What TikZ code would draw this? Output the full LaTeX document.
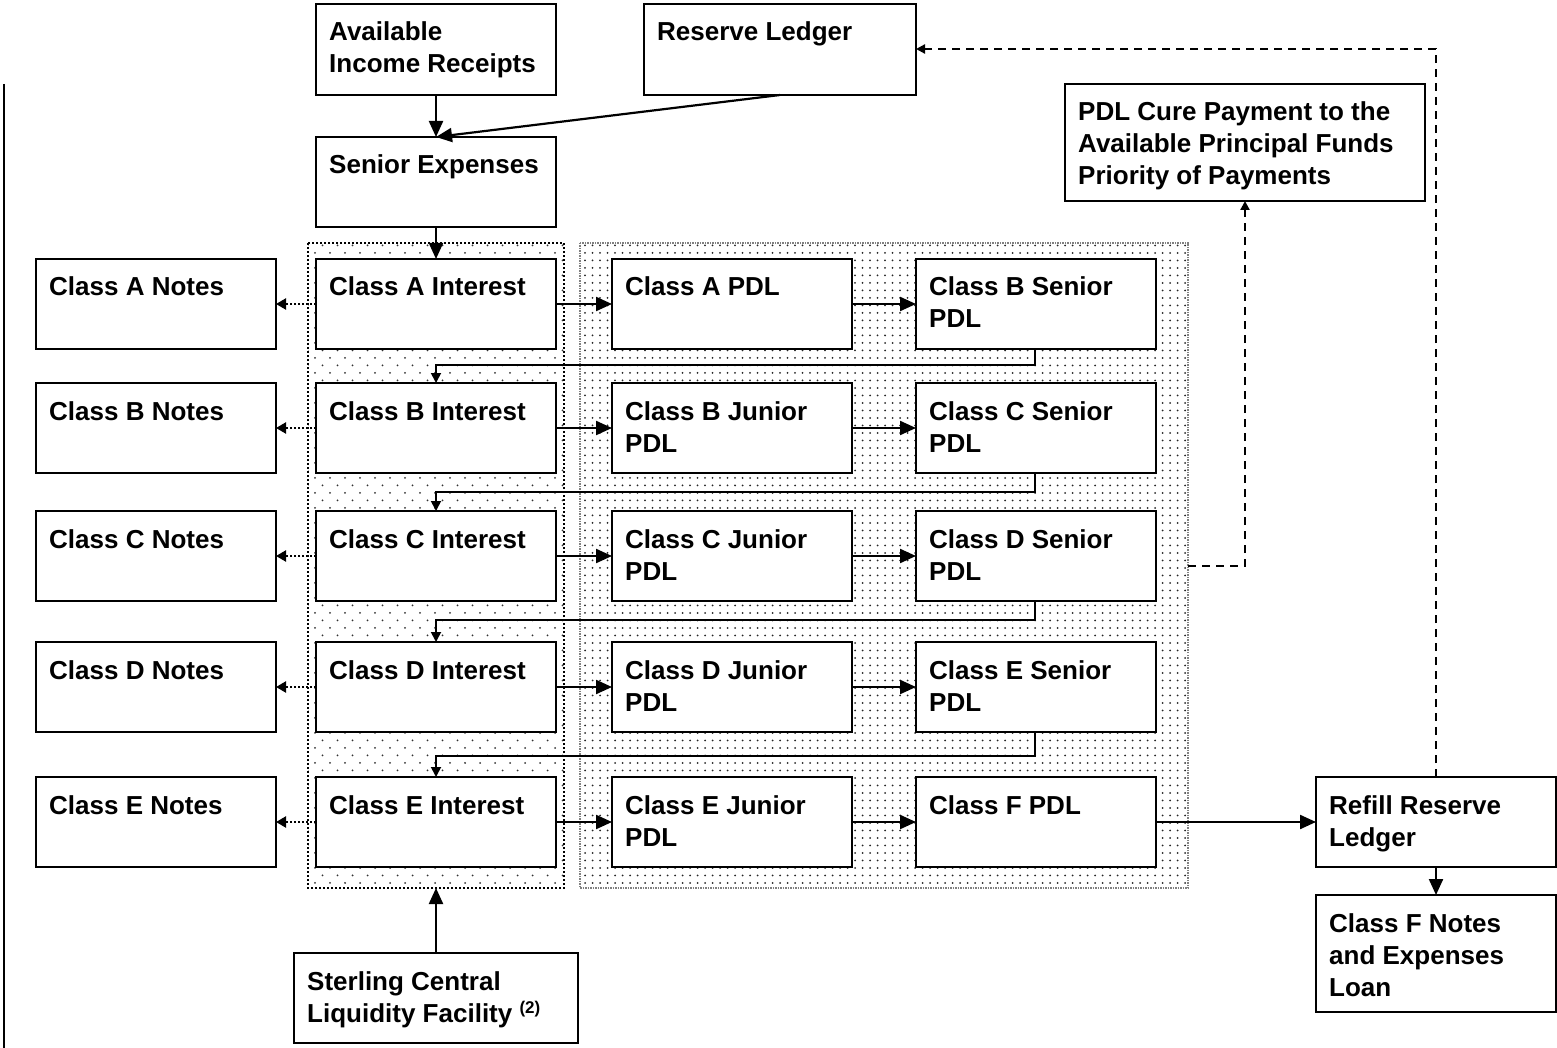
\documentclass[tikz,border=0pt]{standalone}
\usepackage{fontspec}
\setmainfont{Liberation Sans}
\usetikzlibrary{arrows.meta,patterns.meta}

% box with a top-left text block: name, x1, y1, x2, y2, lines
\newcommand\flowbox[6]{%
  \node[bx, minimum width={(#4-#2)*1pt}, minimum height={(#5-#3)*1pt}] (#1) at (#2,#3) {};
  \node[txt] (#1-t) at ([shift={(13,37)}]#1.north west)
    {\begin{tabular}[t]{@{}l@{}}#6\end{tabular}};%
}

\begin{document}
\begin{tikzpicture}[x=1pt,y=-1pt,
  bx/.style={draw, line width=2.8pt, fill=white, inner sep=0pt, outer sep=0pt, anchor=north west},
  txt/.style={anchor=base west, inner sep=0pt, font=\fontsize{26}{32}\selectfont\bfseries},
  flow/.style={line width=2.2pt, -{Triangle[length=16pt,width=14pt]}},
  feed/.style={line width=1.8pt, -{Triangle[length=10pt,width=10pt]}},
  link/.style={line width=2.2pt, dash pattern=on 2pt off 2pt, -{Triangle[length=10pt,width=11pt]}},
  back/.style={line width=2.2pt, dash pattern=on 8pt off 6pt, -{Triangle[length=9pt,width=9pt]}},
]
\useasboundingbox (0,0) rectangle (1557,1048);

% margin rule
\draw[line width=2.6pt] (4,84) -- (4,1048);

% interest column panel
\fill[pattern={Dots[distance=15pt, radius=1pt]}, pattern color=black!80]
  (308,243) rectangle (564,888);
\fill[pattern={Dots[distance=15pt, radius=1pt, xshift=7.5pt, yshift=7.5pt]}, pattern color=black!80]
  (308,243) rectangle (564,888);
\draw[line width=2.2pt, dash pattern=on 2pt off 2pt] (308,243) rectangle (564,888);

% PDL panel
\fill[pattern={Dots[distance=7.5pt, radius=1pt]}, pattern color=black!85]
  (580,243) rectangle (1188,888);
\draw[line width=1.4pt, black!50, dash pattern=on 1.5pt off 1pt] (580,243) rectangle (1188,888);

% boxes
\flowbox{air}{316}{4}{556}{95}{Available\\Income Receipts}
\flowbox{rl}{644}{4}{916}{95}{Reserve Ledger}
\flowbox{se}{316}{137}{556}{227}{Senior Expenses}
\flowbox{cure}{1065}{84}{1425}{201}{PDL Cure Payment to the\\Available Principal Funds\\Priority of Payments}

\flowbox{na}{36}{259}{276}{349}{Class A Notes}
\flowbox{ia}{316}{259}{556}{349}{Class A Interest}
\flowbox{pa}{612}{259}{852}{349}{Class A PDL}
\flowbox{sb}{916}{259}{1156}{349}{Class B Senior\\PDL}

\flowbox{nb}{36}{383}{276}{473}{Class B Notes}
\flowbox{ib}{316}{383}{556}{473}{Class B Interest}
\flowbox{jb}{612}{383}{852}{473}{Class B Junior\\PDL}
\flowbox{sc}{916}{383}{1156}{473}{Class C Senior\\PDL}

\flowbox{nc}{36}{511}{276}{601}{Class C Notes}
\flowbox{ic}{316}{511}{556}{601}{Class C Interest}
\flowbox{jc}{612}{511}{852}{601}{Class C Junior\\PDL}
\flowbox{sd}{916}{511}{1156}{601}{Class D Senior\\PDL}

\flowbox{nd}{36}{642}{276}{732}{Class D Notes}
\flowbox{id}{316}{642}{556}{732}{Class D Interest}
\flowbox{jd}{612}{642}{852}{732}{Class D Junior\\PDL}
\flowbox{sf}{916}{642}{1156}{732}{Class E Senior\\PDL}

\flowbox{ne}{36}{777}{276}{867}{Class E Notes}
\flowbox{ie}{316}{777}{556}{867}{Class E Interest}
\flowbox{je}{612}{777}{852}{867}{Class E Junior\\PDL}
\flowbox{pf}{916}{777}{1156}{867}{Class F PDL}

\flowbox{scl}{294}{953}{578}{1043}{Sterling Central\\Liquidity Facility \raisebox{9pt}{\fontsize{17}{17}\selectfont (2)}}
\flowbox{refill}{1316}{777}{1556}{867}{Refill Reserve\\Ledger}
\flowbox{fn}{1316}{895}{1556}{1012}{Class F Notes\\and Expenses\\Loan}

% panel anchors
\coordinate (ptop) at (436,888);
\coordinate (pside) at (1188,566);

% top of the waterfall
\draw[flow] (air.south) -- (se.north);
\draw[flow] (rl.south west) ++(136,0) coordinate (rlout) -- (se.north);
\draw[flow] (se.south) -- (ia.north);

% interest to notes
\foreach \r in {a,b,c,d,e}
  \draw[link] (i\r.west) -- (n\r.east);

% interest to PDL to senior PDL
\draw[flow] (ia.east) -- (pa.west);
\draw[flow] (pa.east) -- (sb.west);
\foreach \r/\s in {b/c,c/d,d/f}{
  \draw[flow] (i\r.east) -- (j\r.west);
  \draw[flow] (j\r.east) -- (s\s.west);
}
\draw[flow] (ie.east) -- (je.west);
\draw[flow] (je.east) -- (pf.west);

% senior PDL back to next interest
\draw[feed] (sb.south) ++(-1,0) |- (436,365) -- (ib.north);
\draw[feed] (sc.south) ++(-1,0) |- (436,492) -- (ic.north);
\draw[feed] (sd.south) ++(-1,0) |- (436,620) -- (id.north);
\draw[feed] (sf.south) ++(-1,0) |- (436,756) -- (ie.north);

% liquidity facility
\draw[flow] (scl.north) -- (ptop);

% reserve refill
\draw[flow] (pf.east) -- (refill.west);
\draw[flow] (refill.south) -- (fn.north);
\draw[back] (refill.north) |- (rl.east |- 0,49);

% PDL cure
\draw[back] (pside) -| (cure.south -| 1245,0);

\end{tikzpicture}
\end{document}
